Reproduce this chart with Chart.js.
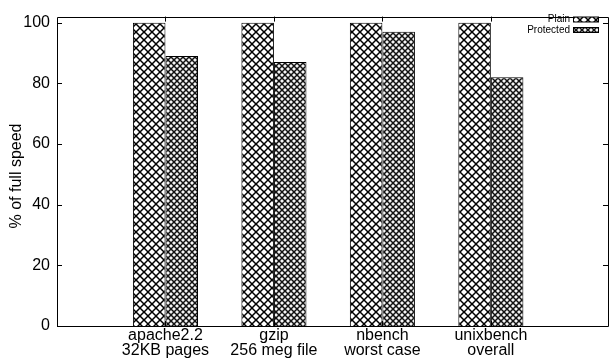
<!DOCTYPE html>
<html>
<head>
<meta charset="utf-8">
<script src="https://cdn.jsdelivr.net/npm/chart.js@4"></script>
<style>
  html, body { margin: 0; padding: 0; background: #fff; }
  #wrap { width: 610px; height: 360px; }
</style>
</head>
<body>
<div id="wrap"><canvas id="chart"></canvas></div>
<script>
const categories = [["apache2.2", "32KB pages"], ["gzip", "256 meg file"], ["nbench", "worst case"], ["unixbench", "overall"]];
const plain = [100, 100, 100, 100];
const protectedVals = [89, 87, 97, 82];
const yTicks = [0, 20, 40, 60, 80, 100];

const FONT = "'Liberation Sans', Arial, Helvetica, sans-serif";

// crosshatch for "Plain"
function plainPattern() {
  const c = document.createElement("canvas");
  c.width = 8; c.height = 8;
  const g = c.getContext("2d");
  g.fillStyle = "#fff";
  g.fillRect(0, 0, 8, 8);
  g.strokeStyle = "#000";
  g.lineWidth = 1.5;
  for (const k of [-8, 0, 8]) {
    g.beginPath(); g.moveTo(k - 2, -2); g.lineTo(k + 10, 10); g.stroke();
    g.beginPath(); g.moveTo(k + 10, -2); g.lineTo(k - 2, 10); g.stroke();
  }
  return g.createPattern(c, "repeat");
}

// finer grey mesh for "Protected"
function protPattern() {
  const c = document.createElement("canvas");
  c.width = 6; c.height = 6;
  const g = c.getContext("2d");
  g.fillStyle = "#666";
  g.fillRect(0, 0, 6, 6);
  g.strokeStyle = "#111";
  g.lineWidth = 1;
  for (const k of [-6, 0, 6]) {
    g.beginPath(); g.moveTo(k - 2, -2); g.lineTo(k + 8, 8); g.stroke();
    g.beginPath(); g.moveTo(k + 8, -2); g.lineTo(k - 2, 8); g.stroke();
  }
  g.fillStyle = "#f4f4f4";
  for (const [cx, cy] of [[3, 0], [3, 6], [0, 3], [6, 3]]) {
    g.beginPath(); g.arc(cx, cy, 1.3, 0, Math.PI * 2); g.fill();
  }
  return g.createPattern(c, "repeat");
}

const pPlain = plainPattern();
const pProt = protPattern();

// frame, inward ticks, y title and legend, gnuplot style
const framePlugin = {
  id: "frame",
  afterDatasetsDraw(chart) {
    const { ctx, chartArea: a, scales } = chart;
    ctx.save();
    ctx.strokeStyle = "#000";
    ctx.lineWidth = 1;
    ctx.beginPath();
    ctx.rect(Math.round(a.left) + 0.5, Math.round(a.top) + 0.5,
      Math.round(a.right - a.left), Math.round(a.bottom - a.top));
    ctx.stroke();
    ctx.beginPath();
    yTicks.forEach(v => {
      const y = Math.round(scales.y.getPixelForValue(v)) + 0.5;
      ctx.moveTo(a.left, y); ctx.lineTo(a.left + 5, y);
      ctx.moveTo(a.right, y); ctx.lineTo(a.right - 5, y);
    });
    categories.forEach((c, i) => {
      const x = Math.round(scales.x.getPixelForValue(i)) + 0.5;
      ctx.moveTo(x, a.top); ctx.lineTo(x, a.top + 5);
      ctx.moveTo(x, a.bottom); ctx.lineTo(x, a.bottom - 5);
    });
    ctx.stroke();

    // y title
    ctx.fillStyle = "#000";
    ctx.font = "16px " + FONT;
    ctx.textAlign = "center";
    ctx.textBaseline = "middle";
    ctx.translate(17, 176);
    ctx.rotate(-Math.PI / 2);
    ctx.fillText("% of full speed", 0, 0);
    ctx.setTransform(1, 0, 0, 1, 0, 0);

    // legend
    ctx.font = "10px " + FONT;
    ctx.textAlign = "right";
    chart.data.datasets.forEach((ds, i) => {
      const y = 19.5 + i * 10.5;
      ctx.fillStyle = "#000";
      ctx.fillText(ds.label, 570, y);
      ctx.fillStyle = ds.backgroundColor;
      ctx.fillRect(573, y - 2.5, 25, 5);
      ctx.strokeRect(573.5, y - 2.5, 25, 5);
    });
    ctx.restore();
  }
};

new Chart(document.getElementById("chart"), {
  type: "bar",
  data: {
    datasets: [
      {
        label: "Plain",
        data: plain.map((v, i) => ({ x: i, y: v })),
        backgroundColor: pPlain,
        borderColor: "#000",
        borderWidth: 1,
      },
      {
        label: "Protected",
        data: protectedVals.map((v, i) => ({ x: i, y: v })),
        backgroundColor: pProt,
        borderColor: "#000",
        borderWidth: 1,
      },
    ],
  },
  options: {
    responsive: true,
    maintainAspectRatio: false,
    animation: false,
    layout: { padding: { top: 10, right: 2, left: 0, bottom: 0 } },
    categoryPercentage: 0.6,
    barPercentage: 1.0,
    plugins: { legend: { display: false }, tooltip: { enabled: false } },
    scales: {
      x: {
        type: "linear",
        offset: false,
        min: -1,
        max: 4.08,
        grid: { display: false, drawTicks: false },
        border: { display: false },
        afterBuildTicks: s => { s.ticks = s.ticks.filter(t => Number.isInteger(t.value)); },
        afterFit: s => { s.height = 34; },
        ticks: {
          stepSize: 1,
          autoSkip: false,
          maxRotation: 0,
          padding: 2,
          color: "#000",
          font: { family: FONT, size: 16, lineHeight: 0.95 },
          callback: v => categories[v] || "",
        },
      },
      y: {
        min: 0,
        max: 102,
        grid: { display: false, drawTicks: false },
        border: { display: false },
        afterBuildTicks: s => { s.ticks = yTicks.map(v => ({ value: v })); },
        afterFit: s => { s.width = 57; },
        ticks: {
          padding: 7,
          color: "#000",
          font: { family: FONT, size: 16 },
        },
      },
    },
  },
  plugins: [framePlugin],
});
</script>
</body>
</html>
